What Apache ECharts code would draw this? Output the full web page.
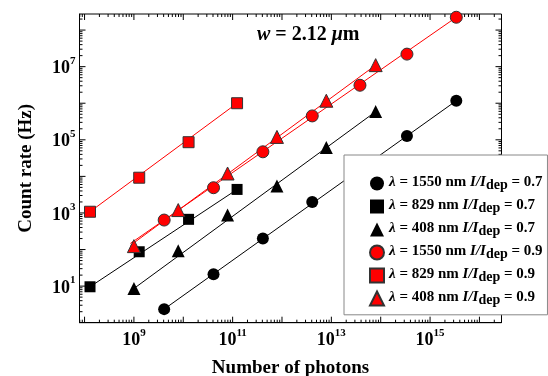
<!DOCTYPE html>
<html><head><meta charset="utf-8">
<script src="https://cdn.jsdelivr.net/npm/echarts@6/dist/echarts.min.js"></script>
<style>html,body{margin:0;padding:0;background:#fff}#c{width:548px;height:376px}</style>
</head><body><div id="c"></div>
<script>
// ---- data ----
const wavelengths = [1550, 829, 408, 1550, 829, 408];
const ratios = ['0.7', '0.7', '0.7', '0.9', '0.9', '0.9'];

const blackCircleX = [4.1e9, 4.1e10, 4.1e11, 4.1e12, 3.4e14, 3.4e15];
const blackCircleY = [2.35, 21, 200, 2000, 1.27e5, 1.17e6];
const blackSquareX = [1.29e8, 1.28e9, 1.28e10, 1.23e11];
const blackSquareY = [9.6, 87, 670, 4400];
const blackTriangleX = [1.0e9, 7.9e9, 7.9e10, 7.9e11, 7.9e12, 7.9e13];
const blackTriangleY = [8.6, 92, 880, 5500, 6.2e4, 5.9e5];
const redCircleX = [4.1e9, 4.1e10, 4.1e11, 4.1e12, 3.8e13, 3.4e14, 3.4e15];
const redCircleY = [640, 4900, 4.7e4, 4.5e5, 3.1e6, 2.2e7, 2.24e8];
const redSquareX = [1.29e8, 1.28e9, 1.28e10, 1.23e11];
const redSquareY = [1080, 9200, 8.6e4, 1.0e6];
const redTriangleX = [1.0e9, 7.9e9, 7.9e10, 7.9e11, 7.9e12, 7.9e13];
const redTriangleY = [124, 1200, 1.2e4, 1.2e5, 1.17e6, 1.1e7];

// fitted lines (end points)
const fitBlackCircleX = [4.1e9, 3.4e15],   fitBlackCircleY = [2.35, 1.17e6];
const fitBlackSquareX = [1.29e8, 1.23e11], fitBlackSquareY = [9.6, 4400];
const fitBlackTriangleX = [1.0e9, 7.9e13], fitBlackTriangleY = [8.6, 5.9e5];
const fitRedCircleX = [8.5e8, 3.4e15],     fitRedCircleY = [147, 2.24e8];
const fitRedSquareX = [1.29e8, 1.23e11],   fitRedSquareY = [1080, 1.0e6];
const fitRedTriangleX = [8.5e8, 7.9e13],   fitRedTriangleY = [130, 1.1e7];

// axis ranges
const xMin = 7.9e7, xMax = 2.8e16;
const yMin = 1, yMax = 2.75e8;

// ---- build ----
const FONT = 'Liberation Serif';
const zip = (xs, ys) => xs.map((x, i) => [x, ys[i]]);
const names = wavelengths.map((w, i) => 'λ = ' + w + ' nm I/Idep = ' + ratios[i]);

// tick decorations: [value, kind(0=x,1=y), length]
function logTicks(lo, hi) {
  const out = [];
  for (let n = Math.floor(Math.log10(lo)); n <= Math.ceil(Math.log10(hi)); n++) {
    for (let k = 1; k <= 9; k++) {
      const v = k * Math.pow(10, n);
      if (v > lo && v < hi) out.push([v, k === 1 ? 6 : 3]);
    }
  }
  return out;
}
const tickData = logTicks(xMin, xMax).map(t => [t[0], yMin, 0, t[1]])
  .concat(logTicks(yMin, yMax).map(t => [xMin, t[0], 1, t[1]]));

function expLabel(value) {
  const l = Math.log10(value);
  const e = Math.round(l);
  if (Math.abs(l - e) > 1e-6 || e % 2 === 0) return '';
  return '{b|10}{s|' + e + '}';
}
const labelRich = {
  b: {fontFamily: FONT, fontWeight: 'bold', fontSize: 18, color: '#000', lineHeight: 22, verticalAlign: 'bottom'},
  s: {fontFamily: FONT, fontWeight: 'bold', fontSize: 11, color: '#000', lineHeight: 12, verticalAlign: 'top'}
};

const axisCommon = {
  type: 'log', logBase: 10,
  axisLine: {show: true, onZero: false, lineStyle: {color: '#000', width: 1}},
  axisTick: {show: false},
  splitLine: {show: false},
  minorTick: {show: false}
};

function scatter(name, xs, ys, symbol, size, color, border) {
  return {
    type: 'scatter', name, data: zip(xs, ys), symbol, symbolSize: size, z: 4,
    itemStyle: {color, borderColor: border, borderWidth: border ? 1 : 0, opacity: 1}
  };
}
function fit(xs, ys, color) {
  return {
    type: 'line', data: zip(xs, ys), showSymbol: false, symbol: 'none', z: 3, silent: true,
    lineStyle: {color, width: 1}
  };
}

const RED = '#ff0000';
const option = {
  animation: false,
  backgroundColor: '#fff',
  title: {
    text: '{i|w}{r| = 2.12 }{i|μ}{r|m}',
    left: 252, top: 20,
    textStyle: {rich: {
      i: {fontFamily: FONT, fontWeight: 'bold', fontStyle: 'italic', fontSize: 20, color: '#000'},
      r: {fontFamily: FONT, fontWeight: 'bold', fontSize: 20, color: '#000'}
    }}
  },
  grid: {left: 79.5, right: 46.5, top: 14, bottom: 53.3, containLabel: false,
         outerBoundsMode: 'none',
         show: true, borderColor: '#000', borderWidth: 1, backgroundColor: 'transparent'},
  xAxis: Object.assign({}, axisCommon, {
    min: xMin, max: xMax, position: 'bottom',
    name: 'Number of photons', nameLocation: 'middle', nameGap: 36,
    nameTextStyle: {fontFamily: FONT, fontWeight: 'bold', fontSize: 19, color: '#000'},
    axisLabel: {show: true, margin: 5, formatter: expLabel, rich: labelRich}
  }),
  yAxis: Object.assign({}, axisCommon, {
    min: yMin, max: yMax, position: 'left',
    name: 'Count rate (Hz)', nameLocation: 'middle', nameGap: 44,
    nameTextStyle: {fontFamily: FONT, fontWeight: 'bold', fontSize: 19, color: '#000'},
    axisLabel: {show: true, margin: 4, formatter: expLabel, rich: labelRich}
  }),
  legend: {
    data: names,
    orient: 'vertical',
    left: 344, top: 155,
    padding: [15.5, 5, 7.3, 25],
    itemGap: 1,
    itemWidth: 14, itemHeight: 14,
    backgroundColor: '#fff',
    borderColor: '#888', borderWidth: 1, borderRadius: 0,
    z: 6,
    formatter: function (name) {
      const i = names.indexOf(name);
      return '{g|λ}{a| = ' + wavelengths[i] + ' nm }{i|I/I}{s|dep}{a| = ' + ratios[i] + '}';
    },
    textStyle: {rich: {
      g: {fontFamily: FONT, fontWeight: 'bold', fontStyle: 'italic', fontSize: 15, color: '#000', lineHeight: 18, verticalAlign: 'top'},
      a: {fontFamily: FONT, fontWeight: 'bold', fontSize: 15, color: '#000', lineHeight: 18, verticalAlign: 'top'},
      i: {fontFamily: FONT, fontWeight: 'bold', fontStyle: 'italic', fontSize: 15, color: '#000', lineHeight: 18, verticalAlign: 'top'},
      s: {fontFamily: FONT, fontWeight: 'bold', fontSize: 14, color: '#000', lineHeight: 14, verticalAlign: 'bottom', padding: [8, 0, 0, 0]}
    }}
  },
  series: [
    fit(fitBlackCircleX, fitBlackCircleY, '#000'),
    fit(fitBlackSquareX, fitBlackSquareY, '#000'),
    fit(fitBlackTriangleX, fitBlackTriangleY, '#000'),
    fit(fitRedCircleX, fitRedCircleY, RED),
    fit(fitRedSquareX, fitRedSquareY, RED),
    fit(fitRedTriangleX, fitRedTriangleY, RED),
    scatter(names[0], blackCircleX, blackCircleY, 'circle', 12, '#000', null),
    scatter(names[1], blackSquareX, blackSquareY, 'rect', 11, '#000', null),
    scatter(names[2], blackTriangleX, blackTriangleY, 'triangle', 13, '#000', null),
    scatter(names[3], redCircleX, redCircleY, 'circle', 12, RED, '#333'),
    scatter(names[4], redSquareX, redSquareY, 'rect', 11, RED, '#333'),
    scatter(names[5], redTriangleX, redTriangleY, 'triangle', 13, RED, '#333'),
    {
      type: 'custom', data: tickData, silent: true, clip: false, z: 2,
      encode: {x: 0, y: 1},
      renderItem: function (params, api) {
        const v0 = api.value(0), v1 = api.value(1), kind = api.value(2), len = api.value(3);
        const st = {stroke: '#000', lineWidth: 1};
        if (kind === 0) {
          const b = api.coord([v0, yMin]), t = api.coord([v0, yMax]);
          return {type: 'group', children: [
            {type: 'line', shape: {x1: b[0], y1: b[1], x2: b[0], y2: b[1] - len}, style: st},
            {type: 'line', shape: {x1: t[0], y1: t[1], x2: t[0], y2: t[1] + len}, style: st}
          ]};
        } else {
          const l = api.coord([xMin, v1]), r = api.coord([xMax, v1]);
          return {type: 'group', children: [
            {type: 'line', shape: {x1: l[0], y1: l[1], x2: l[0] + len, y2: l[1]}, style: st},
            {type: 'line', shape: {x1: r[0], y1: r[1], x2: r[0] - len, y2: r[1]}, style: st}
          ]};
        }
      }
    }
  ]
};
const chart = echarts.init(document.getElementById('c'), null, {renderer: 'canvas'});
chart.setOption(option);
</script>
</body></html>
